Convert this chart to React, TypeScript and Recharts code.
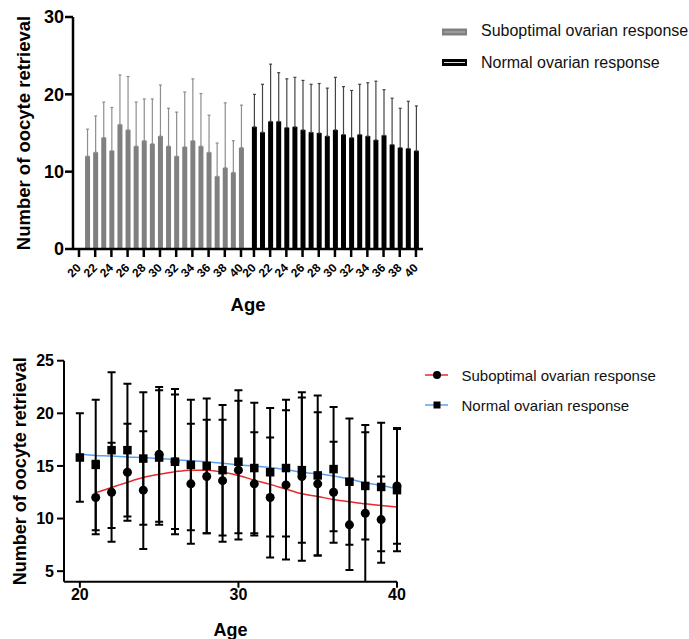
import React from "react";
import {
  BarChart,
  Bar,
  ComposedChart,
  Line,
  Scatter,
  XAxis,
  YAxis,
  ErrorBar,
} from "recharts";

const FONT = '"Liberation Sans", Arial, sans-serif';

// ages shared by both panels
const ages = [20, 21, 22, 23, 24, 25, 26, 27, 28, 29, 30, 31, 32, 33, 34, 35, 36, 37, 38, 39, 40];

// suboptimal ovarian response (no patients at 20)
const subMean = [null, 12.0, 12.5, 14.4, 12.7, 16.1, 15.4, 13.3, 14.0, 13.6, 14.6, 13.3, 12.0, 13.2, 14.0, 13.3, 12.5, 9.4, 10.5, 9.9, 13.1];
const subSD = [null, 3.5, 4.7, 4.6, 5.6, 6.4, 6.9, 5.7, 5.4, 5.8, 6.6, 4.9, 5.7, 7.1, 8.0, 6.8, 4.8, 4.3, 8.4, 4.1, 5.5];

// normal ovarian response
const normMean = [15.8, 15.1, 16.5, 16.5, 15.7, 15.8, 15.4, 15.1, 15.0, 14.6, 15.4, 14.8, 14.4, 14.8, 14.6, 14.1, 14.7, 13.5, 13.1, 13.0, 12.7];
const normSD = [4.2, 6.2, 7.4, 6.3, 6.3, 6.4, 6.4, 6.2, 6.4, 6.2, 6.8, 6.2, 6.1, 6.5, 6.9, 7.6, 5.9, 6.0, 5.1, 6.1, 5.8];

// fitted curves
const subFit = [null, 12.45, 12.95, 13.45, 13.9, 14.2, 14.45, 14.6, 14.6, 14.4, 14.1, 13.65, 13.25, 12.8, 12.35, 12.1, 11.8, 11.6, 11.4, 11.25, 11.1];
const normFit = [16.1, 16.0, 15.95, 15.85, 15.8, 15.7, 15.6, 15.5, 15.4, 15.25, 15.1, 15.0, 14.85, 14.65, 14.4, 14.25, 14.05, 13.75, 13.4, 13.15, 12.85];

const tickAges = [20, 22, 24, 26, 28, 30, 32, 34, 36, 38, 40];
const barYTicks = [0, 10, 20, 30];
const lineXTicks = [20, 30, 40];
const lineYTicks = [5, 10, 15, 20, 25];

const GRAY = "#808080";
const RED = "#e8282b";
const BLUE = "#5aa0ef";
// second group of bars starts this many slots after the first
const GROUP_SHIFT = 21.6;

// lower panel frame
const LOW_W = 420;
const LOW_H = 309;
const LOW_MARGIN = { top: 30.7, right: 23, bottom: 0, left: 0 };
const LOW_XAXIS_H = 57.3;

const barRows = [
  ...ages.map((a, i) => ({
    pos: a - 20,
    sub: subMean[i],
    subErr: subMean[i] == null ? null : [0, subSD[i]],
  })),
  ...ages.map((a, i) => ({
    pos: a - 20 + GROUP_SHIFT,
    norm: normMean[i],
    normErr: [0, normSD[i]],
  })),
];

const barTicks = [
  ...tickAges.map((a) => a - 20),
  ...tickAges.map((a) => a - 20 + GROUP_SHIFT),
];

const posToAge = (v: number) =>
  Math.round(v >= GROUP_SHIFT - 0.01 ? v - GROUP_SHIFT + 20 : v + 20);

const fitRows = ages.map((a, i) => ({ age: a, subFit: subFit[i], normFit: normFit[i] }));
const subPoints = ages
  .map((a, i) => ({ age: a, mean: subMean[i], sd: subSD[i] }))
  .filter((d) => d.mean != null);
const normPoints = ages.map((a, i) => ({ age: a, mean: normMean[i], sd: normSD[i] }));

function AngledTick({ x, y, payload }: any) {
  return (
    <g transform={`translate(${x + 2.7},${y + 9.5})`}>
      <text
        x={0}
        y={0}
        textAnchor="end"
        transform="rotate(-45)"
        fontSize={12}
        fontWeight={700}
        fill="#000"
      >
        {posToAge(payload.value)}
      </text>
    </g>
  );
}

const CircleDot = (p: any) => <circle cx={p.cx} cy={p.cy} r={4.5} fill="#000" />;
const SquareDot = (p: any) => (
  <rect x={p.cx - 4.25} y={p.cy - 4.25} width={8.5} height={8.5} fill="#000" />
);

const axisStyle = { stroke: "#000", strokeWidth: 2.5 };
const axisStyle2 = { stroke: "#000", strokeWidth: 2 };

export default function App() {
  // error bars running past the y-axis floor are cut at the x-axis, as in the source
  const lowClipH = LOW_H - LOW_MARGIN.bottom - LOW_XAXIS_H;
  return (
    <div
      style={{
        position: "absolute",
        left: 0,
        top: 0,
        width: 689,
        height: 639,
        background: "#fff",
        fontFamily: FONT,
      }}
    >
      <style>{`.lower-chart [class*="recharts-errorBar"] { clip-path: url(#lowerPlotClip); }`}</style>

      {/* top panel: bars */}
      <div style={{ position: "absolute", left: 0, top: 0 }}>
        <BarChart
          width={440}
          height={320}
          data={barRows}
          margin={{ top: 17, right: 17, bottom: 0, left: 0 }}
        >
          <XAxis
            dataKey="pos"
            type="number"
            domain={[-0.74, 42.47]}
            allowDataOverflow
            ticks={barTicks}
            interval={0}
            tick={<AngledTick />}
            tickSize={8}
            tickMargin={2}
            height={71}
            axisLine={axisStyle}
            tickLine={axisStyle}
            label={{
              value: "Age",
              position: "insideBottom",
              offset: 9,
              style: { fontSize: 18.5, fontWeight: 700, fill: "#000", fontFamily: FONT },
            }}
          />
          <YAxis
            type="number"
            domain={[0, 30]}
            ticks={barYTicks}
            width={73}
            tickSize={8}
            tickMargin={1}
            axisLine={axisStyle}
            tickLine={axisStyle}
            tick={{ fill: "#000", fontSize: 18, fontWeight: 700 }}
            label={{
              value: "Number of oocyte retrieval",
              angle: -90,
              position: "insideLeft",
              offset: 23,
              textAnchor: "middle",
              style: { fontSize: 18.5, fontWeight: 700, fill: "#000", fontFamily: FONT, textAnchor: "middle" },
            }}
          />
          <Bar dataKey="sub" stackId="s" fill={GRAY} barSize={5} isAnimationActive={false}>
            <ErrorBar dataKey="subErr" direction="y" width={1.5} stroke="#8e8e8e" strokeWidth={1.2} />
          </Bar>
          <Bar dataKey="norm" stackId="s" fill="#000" barSize={5} isAnimationActive={false}>
            <ErrorBar dataKey="normErr" direction="y" width={1.5} stroke="#444" strokeWidth={1.2} />
          </Bar>
        </BarChart>
      </div>

      {/* bottom panel: means, SD and fitted curves */}
      <div className="lower-chart" style={{ position: "absolute", left: 0, top: 330 }}>
        <ComposedChart width={LOW_W} height={LOW_H} data={fitRows} margin={LOW_MARGIN}>
          <XAxis
            dataKey="age"
            type="number"
            domain={[19, 40]}
            ticks={lineXTicks}
            interval={0}
            tickSize={6}
            tickMargin={1}
            height={LOW_XAXIS_H}
            axisLine={axisStyle2}
            tickLine={axisStyle2}
            tick={{ fill: "#000", fontSize: 16, fontWeight: 700 }}
            label={{
              value: "Age",
              position: "insideBottom",
              offset: 3,
              style: { fontSize: 18, fontWeight: 700, fill: "#000", fontFamily: FONT },
            }}
          />
          <YAxis
            type="number"
            domain={[4, 25]}
            allowDataOverflow
            ticks={lineYTicks}
            width={64}
            tickSize={7}
            tickMargin={3}
            axisLine={axisStyle2}
            tickLine={axisStyle2}
            tick={{ fill: "#000", fontSize: 16, fontWeight: 700 }}
            label={{
              value: "Number of oocyte retrieval",
              angle: -90,
              position: "insideLeft",
              offset: 20,
              textAnchor: "middle",
              style: { fontSize: 18, fontWeight: 700, fill: "#000", fontFamily: FONT, textAnchor: "middle" },
            }}
          />
          <Line
            dataKey="subFit"
            type="monotone"
            stroke={RED}
            strokeWidth={1.5}
            dot={false}
            isAnimationActive={false}
          />
          <Line
            dataKey="normFit"
            type="monotone"
            stroke={BLUE}
            strokeWidth={1.5}
            dot={false}
            isAnimationActive={false}
          />
          <Scatter data={subPoints} dataKey="mean" shape={CircleDot} isAnimationActive={false}>
            <ErrorBar dataKey="sd" direction="y" width={4} stroke="#000" strokeWidth={2} />
          </Scatter>
          <Scatter data={normPoints} dataKey="mean" shape={SquareDot} isAnimationActive={false}>
            <ErrorBar dataKey="sd" direction="y" width={4} stroke="#000" strokeWidth={2} />
          </Scatter>
        </ComposedChart>
      </div>

      {/* legends */}
      <svg
        width={689}
        height={639}
        style={{ position: "absolute", left: 0, top: 0, pointerEvents: "none" }}
      >
        <defs>
          <clipPath id="lowerPlotClip" clipPathUnits="userSpaceOnUse">
            <rect x={0} y={0} width={LOW_W} height={lowClipH} />
          </clipPath>
        </defs>
        <rect x={442} y={28.5} width={25} height={7} fill={GRAY} />
        <line x1={444} x2={465} y1={32} y2={32} stroke="#b8b8b8" strokeWidth={1} />
        <text x={481} y={36} fontSize={16} fill="#111" fontFamily={FONT}>
          Suboptimal ovarian response
        </text>
        <rect x={442} y={59} width={25} height={7} fill="#000" />
        <line x1={444} x2={465} y1={62.5} y2={62.5} stroke="#ddd" strokeWidth={1} />
        <text x={481} y={68} fontSize={16} fill="#111" fontFamily={FONT}>
          Normal ovarian response
        </text>

        <line x1={425} x2={448} y1={375} y2={375} stroke={RED} strokeWidth={1.5} />
        <circle cx={437} cy={375} r={4} fill="#000" />
        <text x={461.5} y={381} fontSize={15} fill="#111" fontFamily={FONT}>
          Suboptimal ovarian response
        </text>
        <line x1={425} x2={448} y1={405} y2={405} stroke={BLUE} strokeWidth={1.5} />
        <rect x={433.5} y={401.5} width={7} height={7} fill="#000" />
        <text x={461.5} y={410.5} fontSize={15} fill="#111" fontFamily={FONT}>
          Normal ovarian response
        </text>
      </svg>
    </div>
  );
}
